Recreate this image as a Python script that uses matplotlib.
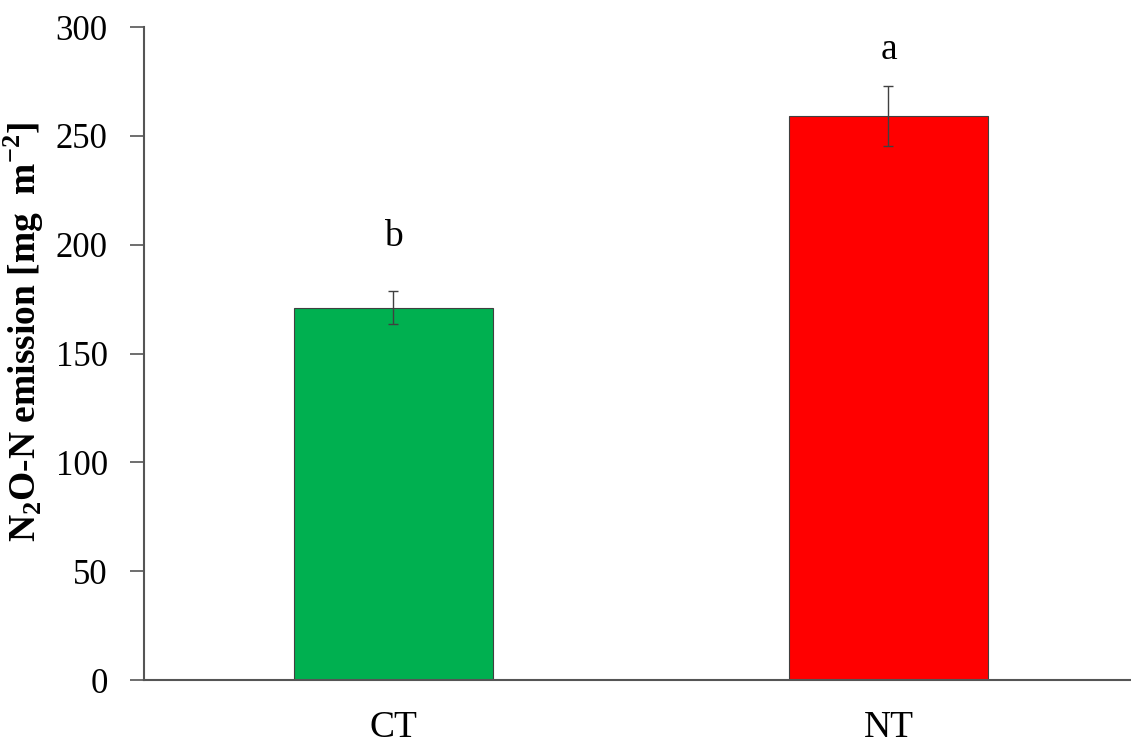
import matplotlib
matplotlib.use("Agg")
import matplotlib.pyplot as plt

# Cumulative N2O-N emission by tillage treatment
treatments = ["CT", "NT"]
emission = [171.0, 259.0]
std_err = [7.6, 13.8]
letters = ["b", "a"]
letter_y = [199.5, 285.5]
bar_colors = ["#00B050", "#FF0000"]
y_ticks = [0, 50, 100, 150, 200, 250, 300]

plt.rcParams["font.family"] = ["Liberation Serif", "DejaVu Serif"]
plt.rcParams["mathtext.fontset"] = "custom"
plt.rcParams["mathtext.rm"] = "Liberation Serif"
plt.rcParams["mathtext.bf"] = "Liberation Serif:bold"

fig = plt.figure(figsize=(11.31, 7.49), dpi=100)
ax = fig.add_axes([0.1273, 0.0921, 0.8727, 0.8718])

x = range(len(treatments))
ax.bar(x, emission, width=0.402, color=bar_colors, edgecolor="#404040",
       linewidth=0.8, zorder=2)
ax.errorbar(x, emission, yerr=std_err, fmt="none", ecolor="#404040",
            elinewidth=1.0, capsize=3.5, capthick=1.0, zorder=3)

for xi, lab, ly in zip(x, letters, letter_y):
    ax.text(xi, ly, lab, ha="center", va="baseline", fontsize=27)

ax.set_xlim(-0.504, 1.49)
ax.set_ylim(0, 300)
ax.set_yticks(y_ticks)
ax.set_xticks(list(x))
ax.set_xticklabels(treatments, fontsize=27)
ax.tick_params(axis="x", length=0, pad=22)
ax.tick_params(axis="y", direction="out", length=10, width=1.2,
               color="#555555", labelsize=25, pad=16)

for side in ("top", "right"):
    ax.spines[side].set_visible(False)
for side in ("left", "bottom"):
    ax.spines[side].set_color("#555555")
    ax.spines[side].set_linewidth(1.5)

ax.set_ylabel(r"N$_\mathbf{2}$O-N emission [mg  m$^{\mathbf{-2}}$]",
              fontsize=27, fontweight="bold")
ax.yaxis.set_label_coords(-0.099, 0.533)

fig.savefig("out.png", dpi=100)
